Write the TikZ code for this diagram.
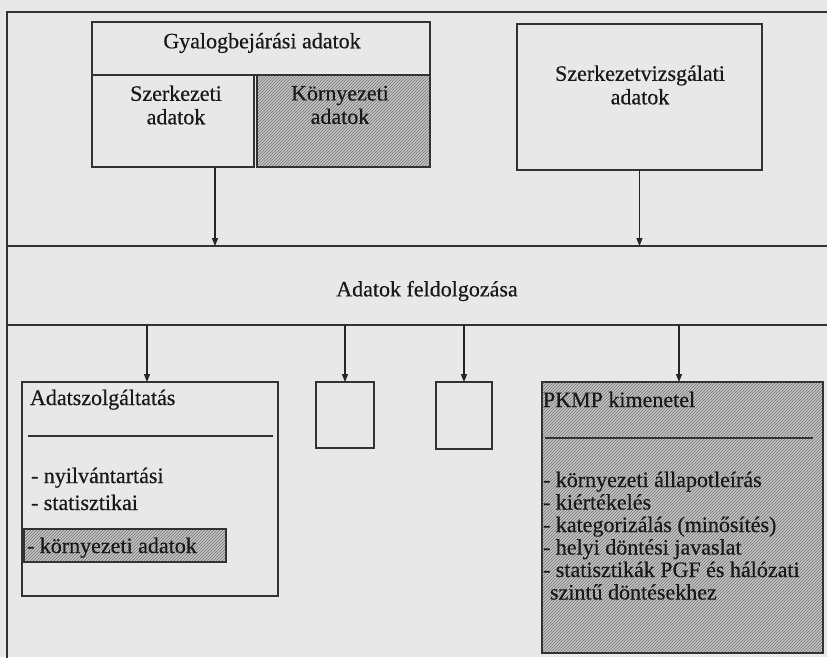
\documentclass[tikz,border=0pt]{standalone}
\usepackage{fontspec}
\setmainfont{Liberation Serif}[FakeBold=0.5]
\usetikzlibrary{arrows.meta,patterns}
\begin{document}
\begin{tikzpicture}[x=1pt,y=-1pt,
  every node/.style={inner sep=0pt, outer sep=0pt},
  txt/.style={font=\fontsize{22}{23.5}\selectfont, text=black!90},
  box/.style={draw=black!80, line width=1.6pt, rectangle, anchor=north west},
  hatch/.style={preaction={fill=black!24}, pattern=north east lines, pattern color=black!52},
  band/.style={draw=black!80, line width=1.4pt, rectangle, anchor=north west},
  frame/.style={draw=black!80, line width=2.6pt},
  thin/.style={draw=black!80, line width=1.1pt},
  arr/.style={draw=black!85, line width=1.2pt, -{Triangle[length=8pt,width=6pt]}}]
\useasboundingbox (0,0) rectangle (827,657);
\fill[black!9] (0,0) rectangle (827,657);
% outer frame
\draw[frame] (7,700) -- (7,12) -- (860,12);
% top boxes
\node[box, minimum width=338pt, minimum height=53pt] (gy) at (92,22) {};
\node[box, minimum width=162pt, minimum height=92pt] (szk) at (92,75) {};
\node[box, hatch, minimum width=173pt, minimum height=92pt] (krn) at (257,75) {};
\node[box, minimum width=245pt, minimum height=146pt] (szv) at (517,24) {};
\node[txt] (gyt) at (262,43) {Gyalogbejárási adatok};
\node[txt, align=center] (szkt) at (176,105) {Szerkezeti\\adatok};
\node[txt, align=center] (krnt) at (340,105) {Környezeti\\adatok};
\node[txt, align=center] (szvt) at (640,85) {Szerkezetvizsgálati\\adatok};
% processing band
\node[band, minimum width=860pt, minimum height=79pt] (proc) at (7,246) {};
\node[txt] (proct) at (427,291) {Adatok feldolgozása};
% bottom boxes
\node[box, minimum width=256pt, minimum height=214pt] (adat) at (22,382) {};
\node[box, minimum width=58pt, minimum height=66pt] (sb1) at (316,382) {};
\node[box, minimum width=56pt, minimum height=67pt] (sb2) at (436,382) {};
\node[box, hatch, minimum width=281pt, minimum height=271pt] (pkmp) at (542,382) {};
\node[box, hatch, line width=1.4pt, minimum width=202pt, minimum height=33pt] (kadat) at (24,529) {};
% texts in Adatszolgaltatas
\node[txt, anchor=base west] (a0) at (30,405) {Adatszolgáltatás};
\draw[thin] (28,436) -- (273,436);
\node[txt, anchor=base west] (a1) at (31,483) {- nyilvántartási};
\node[txt, anchor=base west] (a2) at (31,510) {- statisztikai};
\node[txt, anchor=base west] (a3) at (27,553) {- környezeti adatok};
% texts in PKMP
\node[txt, anchor=base west] (p0) at (543,407) {PKMP kimenetel};
\draw[thin] (545,438) -- (813,438);
\node[txt, anchor=base west] (p1) at (543,487) {- környezeti állapotleírás};
\node[txt, anchor=base west] (p2) at (543,509.5) {- kiértékelés};
\node[txt, anchor=base west] (p3) at (543,532) {- kategorizálás (minősítés)};
\node[txt, anchor=base west] (p4) at (543,554.5) {- helyi döntési javaslat};
\node[txt, anchor=base west] (p5) at (543,577) {- statisztikák PGF és hálózati};
\node[txt, anchor=base west] (p6) at (550,599.5) {szintű döntésekhez};
% connectors
\draw[arr] (szk.south -| 215,0) -- (proc.north -| 215,0);
\draw[arr] (szv.south) -- (proc.north -| szv.south);
\draw[arr] (proc.south -| 147,0) -- (adat.north -| 147,0);
\draw[arr] (proc.south -| sb1.north) -- (sb1.north);
\draw[arr] (proc.south -| sb2.north) -- (sb2.north);
\draw[arr] (proc.south -| 679,0) -- (pkmp.north -| 679,0);
\end{tikzpicture}
\end{document}
